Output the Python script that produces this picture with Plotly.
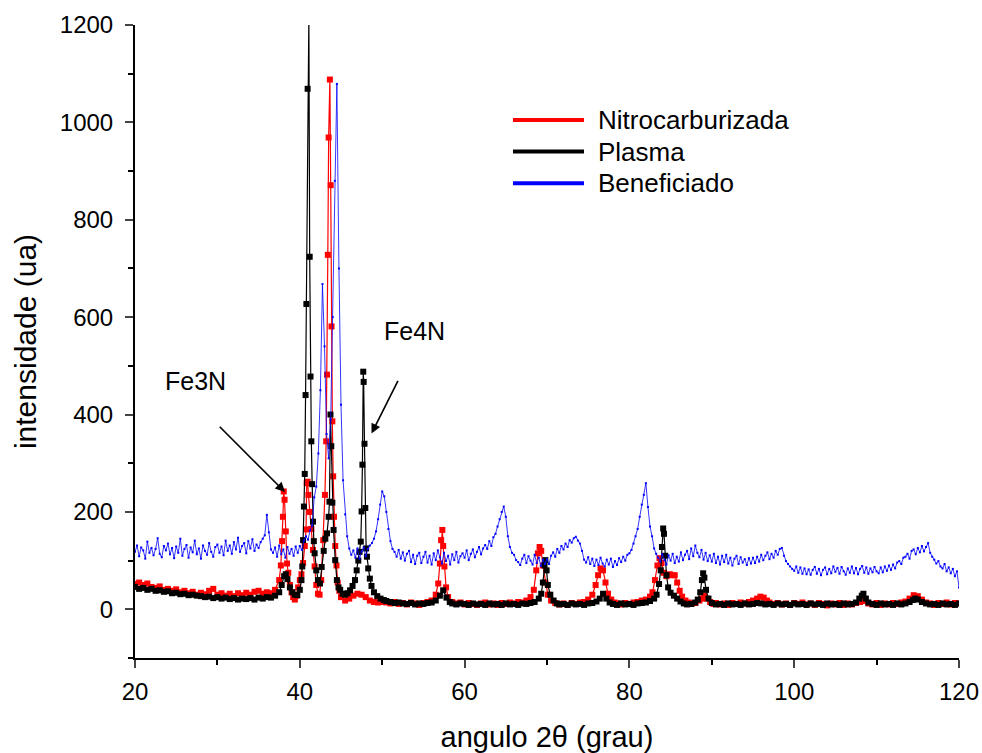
import plotly.graph_objects as go

# ---------------- data ----------------
# Nitrocarburizada (red)
nitro_x = [20.0, 20.5, 21.0, 21.5, 22.0, 22.5, 23.0, 23.5, 24.0, 24.5, 25.0, 25.5, 26.0, 26.5, 27.0, 27.5, 28.0, 28.5, 29.0, 29.5,
           30.0, 30.5, 31.0, 31.5, 32.0, 32.5, 33.0, 33.5, 34.0, 34.5, 35.0, 35.5, 36.0, 36.5, 37.0, 37.5,
           37.7, 37.85, 37.95, 38.05, 38.15, 38.3, 38.45, 38.6, 38.8, 39.0, 39.2, 39.4, 39.6, 39.8, 40.0, 40.2, 40.4, 40.6,
           40.76, 40.84, 40.95, 41.05, 41.2, 41.4, 41.6, 41.8, 42.0, 42.2, 42.4, 42.6, 42.85, 43.05, 43.2, 43.3, 43.4, 43.5,
           43.65, 43.75, 43.85, 43.95, 44.05, 44.15, 44.3, 44.45, 44.6, 44.8, 45.0, 45.5, 46.0, 46.5, 47.0, 47.5, 48.0, 48.5,
           49.0, 49.5, 50.0, 50.5, 51.0, 51.5, 52.0, 52.5, 53.0, 53.5, 54.0, 54.5, 55.0, 55.5, 56.0, 56.5, 56.8, 57.0, 57.15,
           57.3, 57.4, 57.55, 57.75, 58.0, 58.5, 59.0, 59.5, 60.0, 60.5, 61.0, 61.5, 62.0, 62.5, 63.0, 63.5, 64.0, 64.5, 65.0,
           65.5, 66.0, 66.5, 67.0, 67.5, 68.0, 68.4, 68.7, 68.9, 69.1, 69.3, 69.5, 69.8, 70.1, 70.5, 71.0, 71.5, 72.0, 72.5,
           73.0, 73.5, 74.0, 74.5, 75.0, 75.5, 75.9, 76.2, 76.5, 76.8, 77.1, 77.4, 77.8, 78.2, 78.5, 79.0, 79.5, 80.0, 80.5,
           81.0, 81.5, 82.0, 82.5, 82.8, 83.1, 83.4, 83.65, 83.9, 84.2, 84.5, 84.9, 85.2, 85.5, 85.8, 86.1, 86.4, 86.8, 87.2,
           87.6, 88.0, 88.5, 88.8, 89.1, 89.4, 89.8, 90.2, 90.5, 91.0, 91.5, 92.0, 92.5, 93.0, 93.5, 94.0, 94.5, 95.0, 95.5,
           95.9, 96.3, 96.7, 97.0, 97.5, 98.0, 98.5, 99.0, 99.5, 100.0, 100.5, 101.0, 101.5, 102.0, 102.5, 103.0, 103.5, 104.0,
           104.5, 105.0, 105.5, 106.0, 106.5, 107.0, 107.5, 108.0, 108.5, 109.0, 109.5, 110.0, 110.5, 111.0, 111.5, 112.0,
           112.5, 113.0, 113.5, 114.0, 114.5, 115.0, 115.5, 116.0, 116.5, 117.0, 117.5, 118.0, 118.5, 119.0, 119.5, 120.0]
nitro_y = [52, 55, 50, 53, 46, 44, 47, 40, 42, 38, 41, 35, 38, 33, 36, 30, 34, 31, 38, 42,
           30, 33, 28, 32, 27, 33, 29, 34, 30, 36, 38, 32, 35, 33, 40, 60,
           90, 140, 190, 242, 225, 160, 94, 75, 50, 35, 25, 20, 28, 45, 60, 72, 95, 130,
           164, 259, 262, 235, 200, 165, 122, 88, 50, 32, 30, 60, 142, 235, 345, 482, 728, 969,
           1088, 871, 581, 386, 273, 190, 130, 90, 55, 38, 25, 18, 22, 28, 32, 30, 25, 18,
           15, 14, 15, 14, 12, 15, 11, 13, 10, 14, 12, 9, 13, 15, 18, 30, 53, 94, 142,
           163, 130, 88, 45, 25, 15, 12, 14, 10, 13, 11, 9, 12, 14, 10, 12, 9, 13, 11,
           14, 12, 15, 14, 18, 25, 40, 80, 115, 128, 120, 90, 55, 30, 18, 13, 10, 12, 9,
           13, 11, 14, 15, 20, 30, 50, 70, 84, 80, 55, 32, 20, 14, 12, 10, 13, 11, 14,
           15, 18, 20, 26, 35, 60, 90, 105, 95, 75, 68, 72, 70, 70, 55, 38, 26, 18, 14,
           12, 13, 18, 22, 28, 22, 15, 11, 13, 10, 12, 9, 13, 11, 14, 12, 15, 18, 22,
           26, 24, 18, 14, 11, 13, 10, 12, 9, 13, 11, 14, 10, 12, 9, 13, 11, 8,
           12, 10, 13, 9, 12, 10, 13, 15, 17, 12, 10, 13, 9, 12, 10, 13,
           11, 14, 16, 22, 29, 27, 20, 14, 12, 9, 13, 11, 14, 10, 13, 12]

# Plasma (black)
plasma_x = [20.0, 20.5, 21.0, 21.5, 22.0, 22.5, 23.0, 23.5, 24.0, 24.5, 25.0, 25.5, 26.0, 26.5, 27.0, 27.5, 28.0, 28.5, 29.0, 29.5,
            30.0, 30.5, 31.0, 31.5, 32.0, 32.5, 33.0, 33.5, 34.0, 34.5, 35.0, 35.5, 36.0, 36.5, 37.0, 37.5,
            37.8, 38.1, 38.3, 38.5, 38.8, 39.1, 39.4, 39.7, 40.0, 40.2, 40.3, 40.4, 40.5, 40.6, 40.7, 40.8, 40.95, 41.1,
            41.2, 41.3, 41.4, 41.5, 41.6, 41.7, 41.8, 42.0, 42.2, 42.45, 42.65, 42.9, 43.1, 43.3, 43.5, 43.6, 43.72, 43.82,
            43.95, 44.1, 44.3, 44.5, 44.7, 44.9, 45.2, 45.5, 45.8, 46.1, 46.4, 46.7, 46.9, 47.1, 47.25, 47.4, 47.5, 47.6,
            47.7, 47.75, 47.85, 47.95, 48.05, 48.15, 48.3, 48.5, 48.7, 49.0, 49.4, 49.8, 50.2,
            50.5, 51.0, 51.5, 52.0, 52.5, 53.0, 53.5, 54.0, 54.5, 55.0, 55.5, 56.0, 56.5, 57.0, 57.4, 57.8, 58.2, 58.5,
            59.0, 59.5, 60.0, 60.5, 61.0, 61.5, 62.0, 62.5, 63.0, 63.5, 64.0, 64.5, 65.0, 65.5, 66.0, 66.5, 67.0, 67.5,
            68.0, 68.5, 69.0, 69.3, 69.5, 69.7, 69.8, 69.95, 70.1, 70.4, 70.8, 71.2, 71.5, 72.0, 72.5, 73.0, 73.5, 74.0,
            74.5, 75.0, 75.5, 76.0, 76.4, 76.8, 77.2, 77.6, 78.0, 78.5, 79.0, 79.5, 80.0, 80.5, 81.0, 81.5, 82.0, 82.5,
            83.0, 83.3, 83.6, 83.8, 83.95, 84.1, 84.2, 84.35, 84.5, 84.7, 85.0, 85.4, 85.8, 86.2, 86.6, 87.0, 87.5, 88.0,
            88.3, 88.6, 88.8, 88.95, 89.1, 89.3, 89.6, 90.0, 90.5, 91.0, 91.5, 92.0, 92.5, 93.0, 93.5, 94.0, 94.5, 95.0,
            95.5, 96.0, 96.5, 97.0, 97.5, 98.0, 98.5, 99.0, 99.5, 100.0, 100.5, 101.0, 101.5, 102.0, 102.5, 103.0, 103.5,
            104.0, 104.5, 105.0, 105.5, 106.0, 106.5, 107.0, 107.5, 107.9, 108.2, 108.4, 108.7, 109.0, 109.5, 110.0, 110.5,
            111.0, 111.5, 112.0, 112.5, 113.0, 113.5, 114.0, 114.4, 114.7, 115.0, 115.5, 116.0, 116.5, 117.0, 117.5, 118.0,
            118.5, 119.0, 119.5, 120.0]
plasma_y = [46, 42, 44, 40, 42, 38, 39, 36, 37, 33, 34, 31, 32, 29, 30, 28, 27, 25, 26, 23,
            25, 22, 24, 21, 23, 20, 22, 21, 23, 20, 24, 22, 25, 24, 28, 35,
            50, 68, 72, 62, 45, 35, 30, 29, 40, 60, 88, 142, 211, 278, 440, 627, 1069, 1215,
            724, 478, 345, 257, 180, 140, 115, 80, 60, 53, 87, 120, 145, 156, 190, 221, 400, 335,
            219, 163, 101, 60, 45, 40, 32, 30, 33, 39, 48, 60, 80, 100, 118, 139, 201, 297,
            488, 467, 340, 208, 125, 108, 84, 63, 48, 35, 27, 22, 19,
            17, 15, 13, 14, 12, 11, 13, 10, 12, 11, 13, 14, 18, 28, 39, 24, 15, 12,
            10, 12, 11, 9, 12, 10, 11, 9, 12, 10, 11, 9, 12, 10, 11, 9, 12, 11,
            13, 15, 22, 32, 55, 90, 101, 80, 50, 30, 18, 12, 10, 11, 9, 12, 10, 11,
            9, 12, 13, 16, 22, 32, 22, 14, 11, 9, 12, 10, 11, 9, 12, 13, 14, 17,
            22, 30, 52, 80, 128, 166, 155, 110, 70, 45, 34, 28, 22, 16, 12, 10, 11, 14,
            20, 35, 60, 74, 65, 40, 22, 13, 10, 11, 9, 12, 10, 11, 9, 12, 10, 11,
            13, 12, 10, 11, 9, 12, 10, 11, 9, 12, 10, 11, 9, 12, 10, 11, 9,
            12, 10, 11, 9, 12, 10, 11, 14, 22, 28, 32, 22, 14, 11, 9, 12,
            10, 11, 9, 12, 10, 12, 15, 19, 22, 20, 15, 12, 10, 11, 9, 12,
            10, 11, 9, 12]

# Beneficiado (blue)
benef_x = [20.0, 20.25, 20.5, 20.75, 21.0, 21.25, 21.5, 21.75, 22.0, 22.25, 22.5, 22.75, 23.0, 23.25, 23.5, 23.75, 24.0, 24.25, 24.5, 24.75,
           25.0, 25.25, 25.5, 25.75, 26.0, 26.25, 26.5, 26.75, 27.0, 27.25, 27.5, 27.75, 28.0, 28.25, 28.5, 28.75, 29.0, 29.25, 29.5, 29.75,
           30.0, 30.25, 30.5, 30.75, 31.0, 31.25, 31.5, 31.75, 32.0, 32.25, 32.5, 32.75, 33.0, 33.25, 33.5, 33.75, 34.0, 34.25, 34.5, 34.75,
           35.0, 35.25, 35.5, 35.75, 36.0, 36.25, 36.5, 36.75, 37.0, 37.25, 37.5, 37.75, 38.0, 38.25, 38.5, 38.75, 39.0, 39.25, 39.5, 39.75,
           40.0, 40.25, 40.5, 40.75, 41.0, 41.25, 41.5, 41.75, 42.0, 42.25, 42.5, 42.75, 43.0, 43.25, 43.5, 43.75, 44.0, 44.25, 44.5, 44.75,
           45.0, 45.25, 45.5, 45.75, 46.0, 46.25, 46.5, 46.75, 47.0, 47.25, 47.5, 47.75, 48.0, 48.25, 48.5, 48.75, 49.0, 49.25, 49.5, 49.75,
           50.0, 50.25, 50.5, 50.75, 51.0, 51.25, 51.5, 51.75, 52.0, 52.25, 52.5, 52.75, 53.0, 53.25, 53.5, 53.75, 54.0, 54.25, 54.5, 54.75,
           55.0, 55.25, 55.5, 55.75, 56.0, 56.25, 56.5, 56.75, 57.0, 57.25, 57.5, 57.75, 58.0, 58.25, 58.5, 58.75, 59.0, 59.25, 59.5, 59.75,
           60.0, 60.25, 60.5, 60.75, 61.0, 61.25, 61.5, 61.75, 62.0, 62.25, 62.5, 62.75, 63.0, 63.25, 63.5, 63.75, 64.0, 64.25, 64.5, 64.75,
           65.0, 65.25, 65.5, 65.75, 66.0, 66.25, 66.5, 66.75, 67.0, 67.25, 67.5, 67.75, 68.0, 68.25, 68.5, 68.75, 69.0, 69.25, 69.5, 69.75,
           70.0, 70.25, 70.5, 70.75, 71.0, 71.25, 71.5, 71.75, 72.0, 72.25, 72.5, 72.75, 73.0, 73.25, 73.5, 73.75, 74.0, 74.25, 74.5, 74.75,
           75.0, 75.25, 75.5, 75.75, 76.0, 76.25, 76.5, 76.75, 77.0, 77.25, 77.5, 77.75, 78.0, 78.25, 78.5, 78.75, 79.0, 79.25, 79.5, 79.75,
           80.0, 80.25, 80.5, 80.75, 81.0, 81.25, 81.5, 81.75, 82.0, 82.25, 82.5, 82.75, 83.0, 83.25, 83.5, 83.75, 84.0, 84.25, 84.5, 84.75,
           85.0, 85.25, 85.5, 85.75, 86.0, 86.25, 86.5, 86.75, 87.0, 87.25, 87.5, 87.75, 88.0, 88.25, 88.5, 88.75, 89.0, 89.25, 89.5, 89.75,
           90.0, 90.25, 90.5, 90.75, 91.0, 91.25, 91.5, 91.75, 92.0, 92.25, 92.5, 92.75, 93.0, 93.25, 93.5, 93.75, 94.0, 94.25, 94.5, 94.75,
           95.0, 95.25, 95.5, 95.75, 96.0, 96.25, 96.5, 96.75, 97.0, 97.25, 97.5, 97.75, 98.0, 98.25, 98.5, 98.75, 99.0, 99.25, 99.5, 99.75,
           100.0, 100.25, 100.5, 100.75, 101.0, 101.25, 101.5, 101.75, 102.0, 102.25, 102.5, 102.75, 103.0, 103.25, 103.5, 103.75, 104.0, 104.25, 104.5, 104.75,
           105.0, 105.25, 105.5, 105.75, 106.0, 106.25, 106.5, 106.75, 107.0, 107.25, 107.5, 107.75, 108.0, 108.25, 108.5, 108.75, 109.0, 109.25, 109.5, 109.75,
           110.0, 110.25, 110.5, 110.75, 111.0, 111.25, 111.5, 111.75, 112.0, 112.25, 112.5, 112.75, 113.0, 113.25, 113.5, 113.75, 114.0, 114.25, 114.5, 114.75,
           115.0, 115.25, 115.5, 115.75, 116.0, 116.25, 116.5, 116.75, 117.0, 117.25, 117.5, 117.75, 118.0, 118.25, 118.5, 118.75, 119.0, 119.25, 119.5, 119.75,
           120.0]
benef_y = [118, 131, 109, 127, 121, 104, 139, 116, 126, 111, 124, 146, 114, 107, 130, 121, 135, 113, 126, 105,
           129, 116, 145, 110, 124, 132, 106, 127, 117, 141, 113, 125, 104, 131, 120, 112, 136, 118, 108, 128,
           133, 116, 129, 111, 141, 120, 131, 114, 138, 123, 147, 118, 130, 136, 115, 140, 125, 144, 120, 133,
           126, 138, 145, 152, 194, 158, 123, 116, 127, 108, 131, 113, 123, 106, 128, 114, 124, 110, 129, 116,
           130, 122, 141, 150, 143, 162, 172, 230, 252, 320, 450, 668, 540, 360, 310, 390, 600, 880, 1079, 700,
           420, 265, 195, 150, 125, 112, 121, 106, 125, 104, 119, 127, 109, 124, 131, 136, 145, 160, 185, 215,
           242, 232, 200, 165, 140, 124, 118, 108, 122, 104, 117, 100, 114, 120, 97, 112, 93, 110, 116, 95,
           108, 118, 96, 110, 92, 115, 101, 121, 107, 94, 116, 99, 110, 92, 113, 101, 118, 96, 109, 115,
           106, 121, 101, 114, 123, 107, 118, 128, 113, 125, 132, 124, 140, 130, 148, 155, 170, 185, 200, 211,
           190, 150, 128, 116, 112, 101, 97, 91, 104, 112, 95, 109, 100, 92, 112, 95, 106, 89, 102, 93,
           103, 93, 110, 117, 108, 124, 116, 130, 123, 135, 128, 142, 137, 146, 149, 141, 135, 120, 102, 96,
           107, 93, 104, 89, 102, 91, 106, 94, 88, 102, 92, 104, 87, 99, 91, 105, 97, 108, 100, 112,
           115, 122, 135, 150, 165, 190, 215, 235, 259, 210, 170, 150, 125, 114, 106, 98, 113, 101, 92, 111,
           100, 114, 95, 108, 98, 117, 101, 112, 120, 103, 125, 109, 131, 116, 107, 122, 102, 116, 99, 111,
           98, 114, 95, 108, 92, 110, 97, 112, 94, 106, 90, 104, 110, 93, 107, 96, 103, 91, 105, 94,
           106, 95, 108, 98, 112, 101, 110, 117, 103, 114, 106, 120, 112, 124, 126, 110, 99, 93, 88, 83,
           79, 88, 75, 86, 73, 84, 72, 82, 71, 81, 87, 73, 83, 70, 81, 86, 72, 83, 74, 88,
           77, 85, 73, 87, 78, 71, 84, 75, 88, 74, 85, 72, 83, 89, 75, 86, 73, 84, 76, 87,
           78, 74, 86, 76, 88, 79, 90, 81, 92, 84, 96, 99, 93, 106, 108, 114, 104, 120, 123, 113,
           126, 117, 130, 119, 128, 136, 116, 108, 102, 94, 99, 88, 84, 93, 78, 86, 74, 83, 68, 78,
           45]

series_names = ["Nitrocarburizada", "Plasma", "Beneficiado"]
series_colors = ["#ff0000", "#000000", "#0000ff"]

x_ticks = [20, 40, 60, 80, 100, 120]
y_ticks = [0, 200, 400, 600, 800, 1000, 1200]

assert len(nitro_x) == len(nitro_y), (len(nitro_x), len(nitro_y))
assert len(plasma_x) == len(plasma_y), (len(plasma_x), len(plasma_y))
assert len(benef_x) == len(benef_y), (len(benef_x), len(benef_y))

FONT = "Liberation Sans, Arial, sans-serif"

fig = go.Figure()
fig.add_trace(go.Scatter(x=nitro_x, y=nitro_y, mode="lines+markers", name=series_names[0],
                         line=dict(color=series_colors[0], width=1.2),
                         marker=dict(symbol="square", size=6, color=series_colors[0]),
                         showlegend=False))
fig.add_trace(go.Scatter(x=plasma_x, y=plasma_y, mode="lines+markers", name=series_names[1],
                         line=dict(color=series_colors[1], width=1.2),
                         marker=dict(symbol="square", size=6, color=series_colors[1]),
                         showlegend=False))
fig.add_trace(go.Scatter(x=benef_x, y=benef_y, mode="lines+markers", name=series_names[2],
                         line=dict(color=series_colors[2], width=0.8),
                         marker=dict(symbol="square", size=2, color=series_colors[2]),
                         showlegend=False))

# manual legend (long line swatches like the original)
leg_y = [0.850, 0.800, 0.750]
for name, col, yy in zip(series_names, series_colors, leg_y):
    fig.add_shape(type="line", xref="paper", yref="paper", x0=0.4587, x1=0.5449, y0=yy, y1=yy,
                  line=dict(color=col, width=4))
    fig.add_annotation(xref="paper", yref="paper", x=0.5595, y=yy, text=name, showarrow=False,
                       xanchor="left", yanchor="middle", font=dict(family=FONT, size=26, color="black"))

# peak labels with arrows
fig.add_annotation(x=27.3, y=468, text="Fe3N", showarrow=False, font=dict(family=FONT, size=25, color="black"))
fig.add_annotation(x=38.2, y=241, ax=30.1, ay=378, axref="x", ayref="y", text="", showarrow=True,
                   arrowhead=2, arrowsize=1.2, arrowwidth=1.6, arrowcolor="black")
fig.add_annotation(x=53.9, y=571, text="Fe4N", showarrow=False, font=dict(family=FONT, size=25, color="black"))
fig.add_annotation(x=48.7, y=361, ax=52.0, ay=472, axref="x", ayref="y", text="", showarrow=True,
                   arrowhead=2, arrowsize=1.2, arrowwidth=1.6, arrowcolor="black")

fig.update_layout(
    width=982, height=753,
    margin=dict(l=135, r=23, t=25, b=95, autoexpand=False),
    paper_bgcolor="white", plot_bgcolor="white",
    font=dict(family=FONT, color="black"),
    showlegend=False,
)
fig.update_xaxes(range=[20, 120], tickvals=x_ticks, ticks="outside", ticklen=8, tickwidth=1.5,
                 showline=True, linecolor="black", linewidth=2, showgrid=False, zeroline=False,
                 automargin=False, ticklabelstandoff=3,
                 tickfont=dict(family=FONT, size=24, color="black"),
                 minor=dict(dtick=10, ticks="outside", ticklen=5, tickwidth=1.5, tickcolor="black", showgrid=False),
                 title=dict(text="angulo 2θ (grau)", font=dict(family=FONT, size=29, color="black"), standoff=23))
fig.update_yaxes(range=[-100, 1200], tickvals=y_ticks, ticks="outside", ticklen=8, tickwidth=1.5,
                 showline=True, linecolor="black", linewidth=2, showgrid=False, zeroline=False,
                 automargin=False, ticklabelstandoff=7,
                 tickfont=dict(family=FONT, size=24, color="black"),
                 minor=dict(dtick=100, ticks="outside", ticklen=5, tickwidth=1.5, tickcolor="black", showgrid=False),
                 title=dict(text="intensidade (ua)", font=dict(family=FONT, size=30, color="black"), standoff=14))

# remove the default page margin so the 982x753 figure fills the window exactly
fig.write_html("out.html",
               config={"displayModeBar": False},
               post_script="document.body.style.margin='0';"
                           "document.body.style.overflow='hidden';"
                           "document.documentElement.style.overflow='hidden';")
